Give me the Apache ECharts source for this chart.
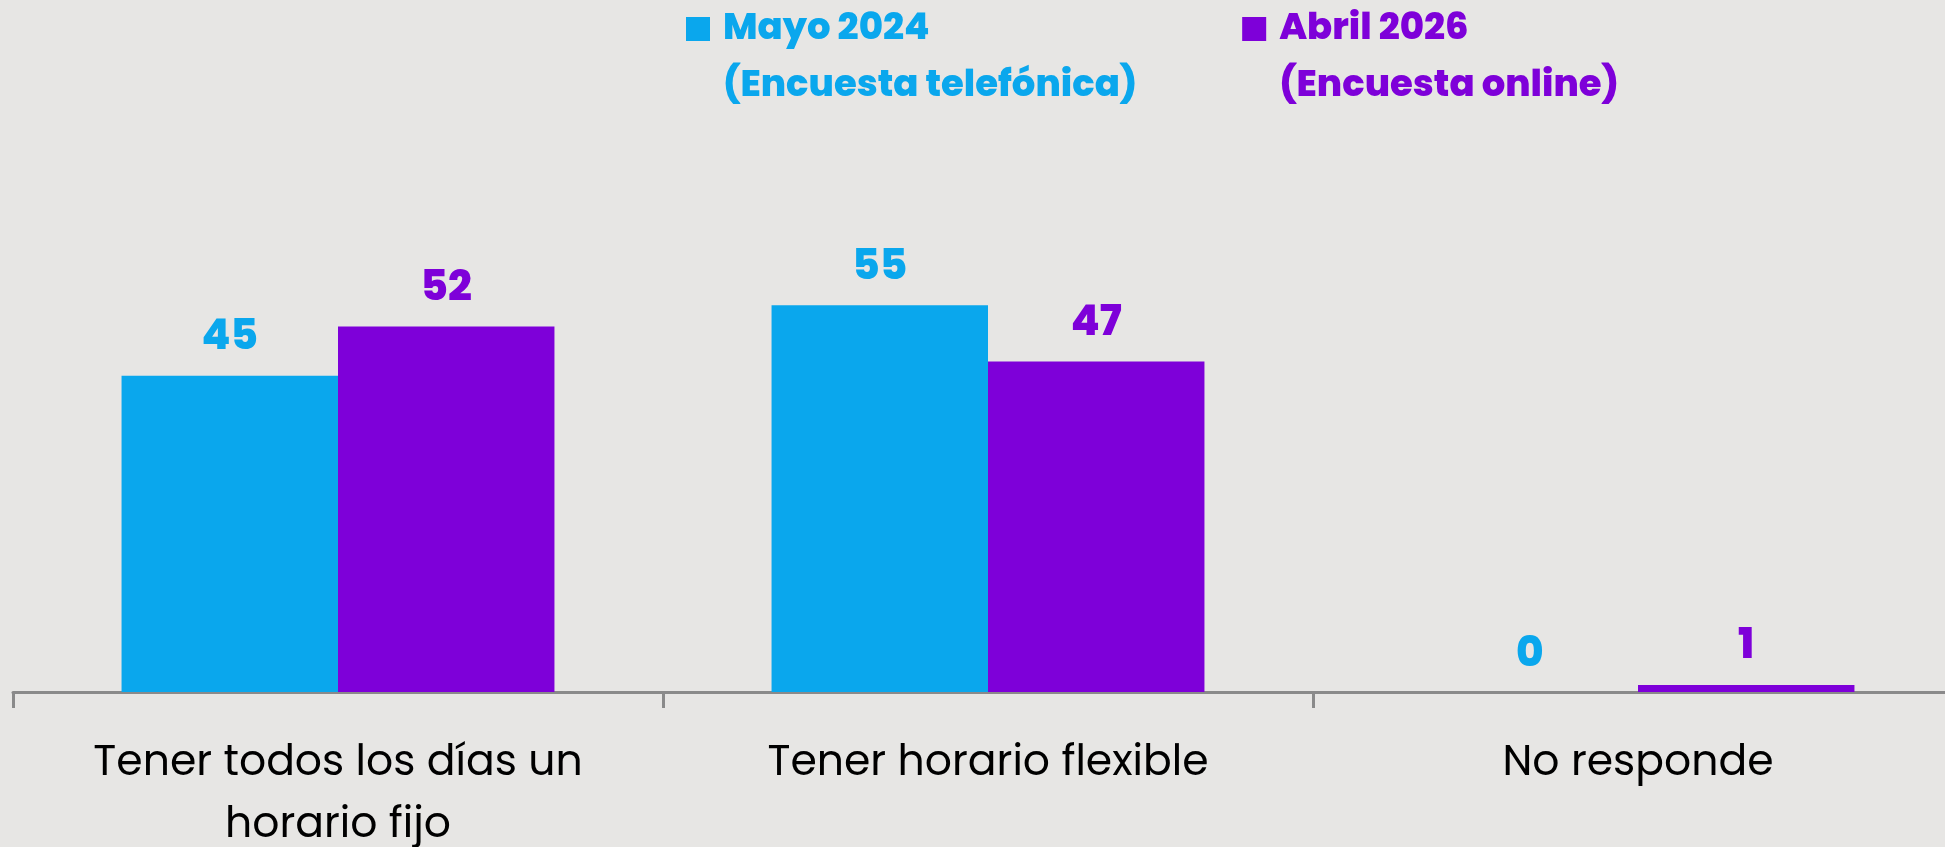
<!DOCTYPE html>
<html>
<head>
<meta charset="utf-8">
<script src="https://cdn.jsdelivr.net/npm/echarts@6/dist/echarts.min.js"></script>
<style>
  html, body { margin: 0; padding: 0; background: #e7e6e4; }
  #chart { width: 1945px; height: 847px; }
</style>
</head>
<body>
<div id="chart"></div>
<script>
const categories = ["Tener todos los días un\nhorario fijo", "Tener horario flexible", "No responde"];
const mayo2024 = [45, 55, 0];
const abril2026 = [52, 47, 1];
const seriesNames = ["Mayo 2024\n(Encuesta telefónica)", "Abril 2026\n(Encuesta online)"];

const blue = "#0aa7ed";
const purple = "#7e00d9";
const font = "Poppins, 'DejaVu Sans', sans-serif";

// square on the first line of a two-line legend text
const legendIcon = "path://M0,0H32 M0,16H24V40H0Z M0,114H32";

var myChart = echarts.init(document.getElementById("chart"));
var option = {
  backgroundColor: "#e7e6e4",
  animation: false,
  legend: {
    left: 686,
    top: 1,
    padding: 0,
    itemWidth: 32,
    itemHeight: 114,
    itemGap: 105,
    icon: legendIcon,
    data: [
      { name: seriesNames[0], textStyle: { color: blue } },
      { name: seriesNames[1], textStyle: { color: purple } },
    ],
    textStyle: {
      fontFamily: font,
      fontWeight: 800,
      fontSize: 37,
      lineHeight: 57,
    },
  },
  grid: {
    left: 13,
    right: -18,
    top: 129.6,
    bottom: 155,
    outerBoundsMode: "none",
    containLabel: false,
  },
  xAxis: {
    type: "category",
    data: categories,
    axisLine: { lineStyle: { color: "#8a8a8a", width: 3 } },
    axisTick: { show: true, length: 16, lineStyle: { color: "#8a8a8a", width: 3 } },
    axisLabel: {
      color: "#000",
      fontFamily: font,
      fontSize: 42.5,
      lineHeight: 62,
      margin: 41,
      interval: 0,
    },
  },
  yAxis: {
    type: "value",
    min: 0,
    max: 80,
    show: false,
  },
  series: [
    {
      name: seriesNames[0],
      type: "bar",
      barWidth: "33.3%",
      barGap: "0%",
      itemStyle: { color: blue },
      label: {
        show: true,
        position: "top",
        distance: 16,
        color: blue,
        fontFamily: font,
        fontWeight: 800,
        fontSize: 42,
      },
      data: mayo2024,
    },
    {
      name: seriesNames[1],
      type: "bar",
      barWidth: "33.3%",
      barGap: "0%",
      itemStyle: { color: purple },
      label: {
        show: true,
        position: "top",
        distance: 16,
        color: purple,
        fontFamily: font,
        fontWeight: 800,
        fontSize: 42,
      },
      data: abril2026,
    },
  ],
};

if (option && typeof option === "object") {
  myChart.setOption(option);
}
</script>
</body>
</html>
